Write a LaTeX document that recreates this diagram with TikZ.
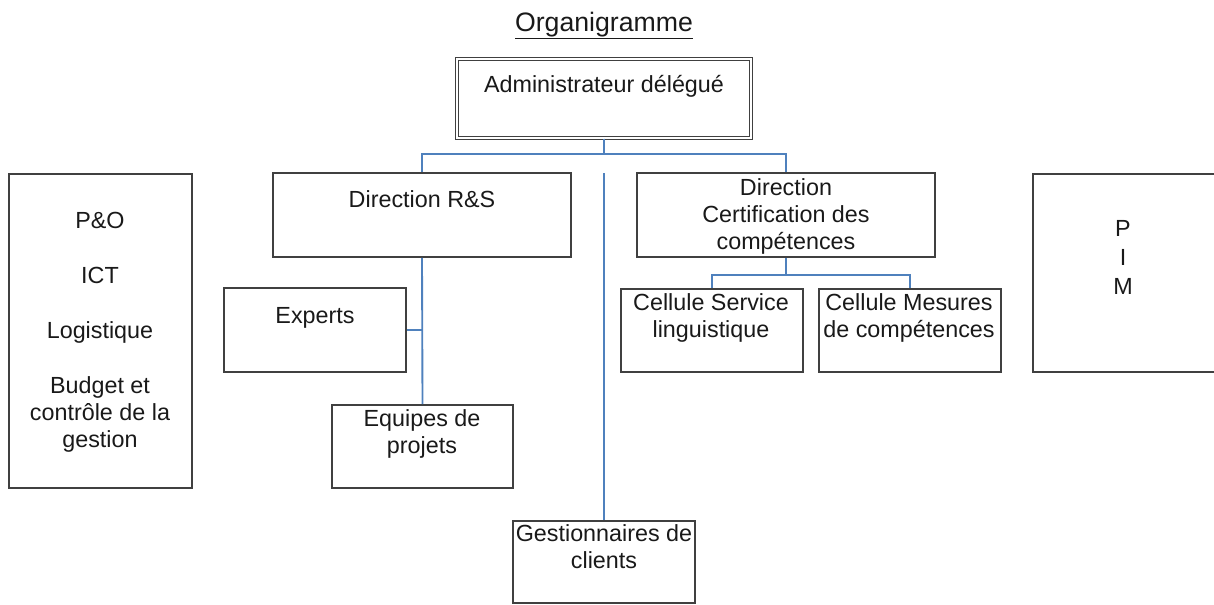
\documentclass[tikz,border=0pt]{standalone}
\usepackage{fontspec}
\setmainfont{Liberation Sans}
\usetikzlibrary{fit,positioning}
\definecolor{bord}{HTML}{404040}
\definecolor{bleu}{HTML}{4F81BD}
\tikzset{
  bloc/.style={draw=bord, line width=1.3pt, inner sep=0pt},
  txt/.style={anchor=base, align=center, inner sep=0pt, text=black!90, font=\fontsize{17.5}{20.25}\selectfont},
  lien/.style={draw=bleu, line width=1.4pt},
}
\begin{document}
\begin{tikzpicture}[x=0.75pt, y=-0.75pt]
\def\ecart{21pt}
\useasboundingbox (0,0) rectangle (1214,604);

\node[txt, font=\fontsize{20}{24}\selectfont] (titre) at (604,31) {\underline{Organigramme}};

%%%%%%%%%%%%%-------------cadres
\node[bloc, double, double distance=1.8pt, line width=0.9pt, fit={(457,59) (751,138)}] (ad) {};
\node[bloc, fit={(273,173) (571,257)}] (rs) {};
\node[bloc, fit={(637,173) (935,257)}] (dc) {};
\node[bloc, fit={(224,288) (406,372)}] (ex) {};
\node[bloc, fit={(332,405) (513,488)}] (eq) {};
\node[bloc, fit={(621,289) (803,372)}] (cs) {};
\node[bloc, fit={(819,289) (1001,372)}] (cm) {};
\node[bloc, fit={(513,521) (695,603)}] (gc) {};
\node[bloc, fit={(9,174) (192,488)}] (serv) {};
\node[bloc, fit={(1033,174) (1222,372)}] (pim) {};

%%%%%%%%%%%%%-------------textes (base = derniere ligne)
\node[txt] (adT) at (604,92) {Administrateur délégué};
\node[txt] (rsT) at (422,207) {Direction R\&S};
\node[txt] (dcT) at (786,249) {Direction\\Certification des\\compétences};
\node[txt] (exT) at (315,323) {Experts};
\node[txt] (eqT) at (422,453) {Equipes de\\projets};
\node[txt] (csT) at (711,337) {Cellule Service\\linguistique};
\node[txt] (cmT) at (909,337) {Cellule Mesures\\de compétences};
\node[txt] (gcT) at (604,568) {Gestionnaires de\\clients};
\node[txt] (servT) at (100,447) {P\&O\\[\ecart]ICT\\[\ecart]Logistique\\[\ecart]Budget et\\contrôle de la\\gestion};
\node[txt, font=\fontsize{17.5}{21.4}\selectfont] (pimT) at (1123,294) {P\\I\\M};

%%%%%%%%%%%%%-------------liens
\coordinate (axe) at (604,173);
\draw[lien] (ad.south) -- ++(0,15) -| (rs.north);
\draw[lien] (ad.south) -- ++(0,15) -| (dc.north);
\draw[lien] (axe) -- (gc.north);
\draw[lien] (rs.south) -- (eq.north);
\draw[lien] (ex.east) -- (ex.east -| rs.south);
\draw[lien] (dc.south) -- ++(0,17) -| (cs.north);
\draw[lien] (dc.south) -- ++(0,17) -| (cm.north);

\end{tikzpicture}
\end{document}
